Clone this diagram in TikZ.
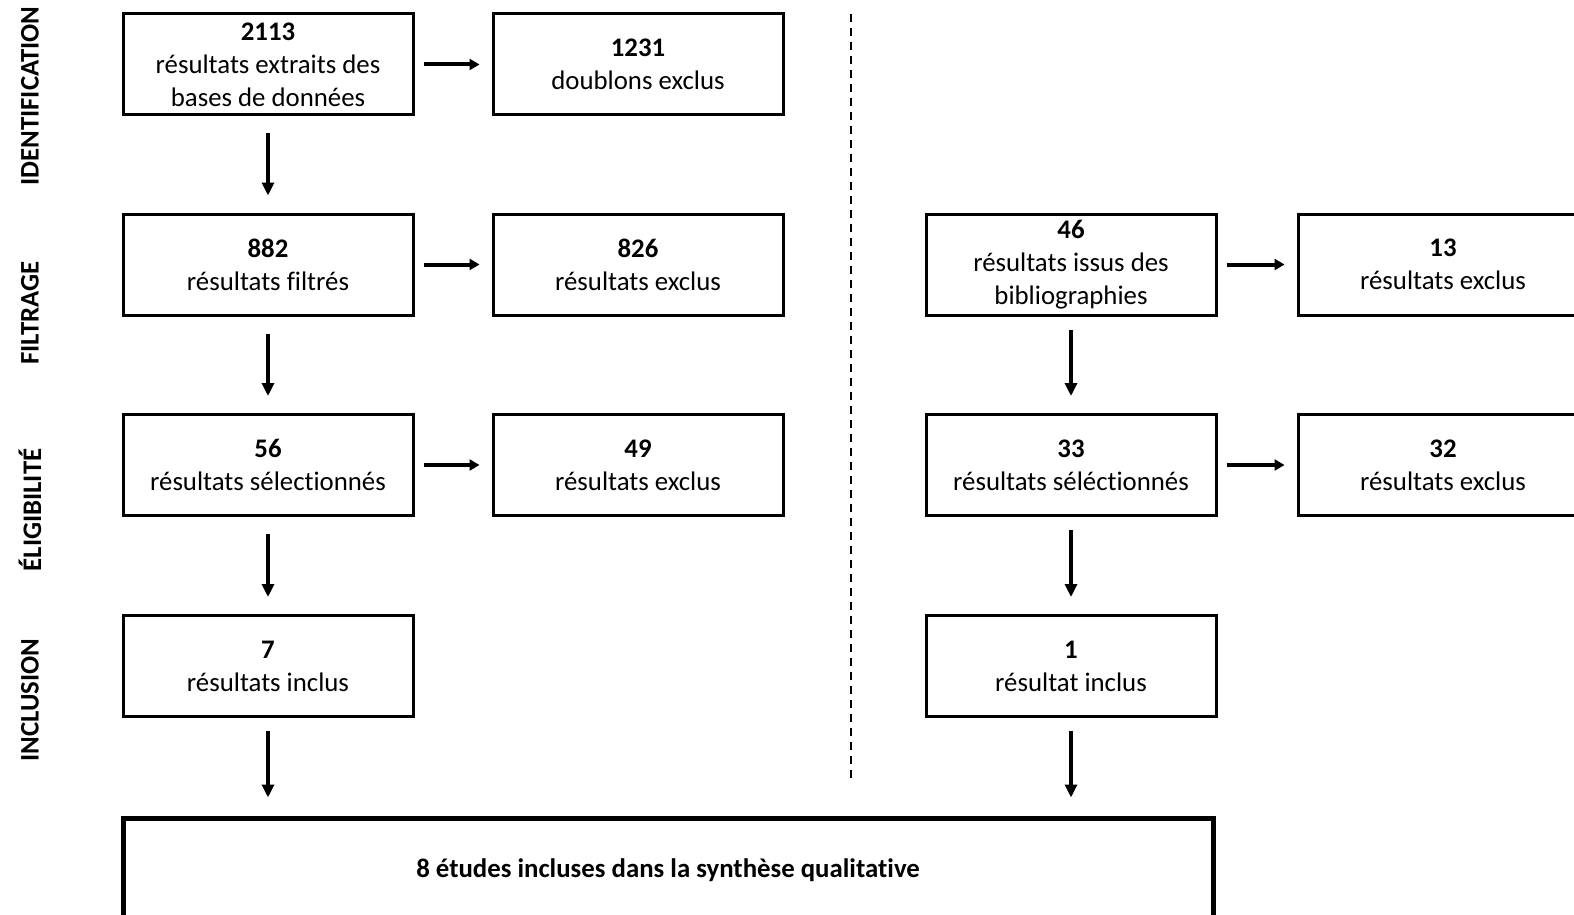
\documentclass[tikz,border=0pt]{standalone}
\usepackage{fontspec}
\setmainfont{Carlito}[Ligatures={NoCommon,NoRequired,NoContextual}]
\usetikzlibrary{arrows.meta}
\begin{document}
\begin{tikzpicture}[x=0.5pt,y=-0.5pt,
  box/.style={draw,line width=1.5pt,minimum width=145pt,minimum height=50.5pt,inner sep=0pt,align=center,font=\fontsize{13.4}{16.5}\selectfont},
  bigbox/.style={draw,line width=2.5pt,inner sep=0pt,align=center,font=\fontsize{13.4}{16.5}\selectfont\bfseries},
  harr/.style={line width=2pt,-{Triangle[length=5pt,width=5.5pt]}},
  varr/.style={line width=1.6pt,-{Triangle[length=6.5pt,width=6pt]}},
  phase/.style={rotate=90,font=\fontsize{13.4}{16}\selectfont\bfseries}]
\useasboundingbox (0,0) rectangle (1574,915);
% phase labels
\node[phase] (pI) at (30,96) {IDENTIFICATION};
\node[phase] (pF) at (30,313) {FILTRAGE};
\node[phase] (pE) at (30,510) {ÉLIGIBILITÉ};
\node[phase] (pN) at (30,700) {INCLUSION};
% left column
\node[box] (a1) at (268,64.5) {\textbf{2113}\\résultats extraits des\\bases de données};
\node[box] (a2) at (268,264.5) {\textbf{882}\\résultats filtrés};
\node[box] (a3) at (268,465) {\textbf{56}\\résultats sélectionnés};
\node[box] (a4) at (268,666) {\textbf{7}\\résultats inclus};
% second column
\node[box] (b1) at (638,64.5) {\textbf{1231}\\doublons exclus};
\node[box] (b2) at (638,264.5) {\textbf{826}\\résultats exclus};
\node[box] (b3) at (638,465) {\textbf{49}\\résultats exclus};
% right column
\node[box] (c1) at (1071,264.5) {\textbf{46}\\résultats issus des\\bibliographies};
\node[box] (c2) at (1071,465) {\textbf{33}\\résultats séléctionnés};
\node[box] (c3) at (1071,666) {\textbf{1}\\résultat inclus};
% far right (cut off)
\node[box] (d1) at (1443,264.5) {\textbf{13}\\résultats exclus};
\node[box] (d2) at (1443,465) {\textbf{32}\\résultats exclus};
% final box
\node[bigbox,minimum width=545pt,minimum height=90pt] (f) at (668,908) {8 études incluses dans la synthèse qualitative\\[23pt]\mbox{}};
% dashed separator
\coordinate (s1) at (851,14);
\coordinate (s2) at (851,783);
\draw[line width=0.75pt,dash pattern=on 4pt off 3pt] (s1) -- (s2);
% horizontal arrows
\foreach \u/\v in {a1/b1,a2/b2,a3/b3,c1/d1,c2/d2}
  \draw[harr,shorten <=4.5pt,shorten >=6pt] (\u.east) -- (\v.west);
% vertical arrows
\foreach \u/\v in {a1/a2,a2/a3,a3/a4}
  \draw[varr,shorten <=8.5pt,shorten >=8.5pt] (\u.south) -- (\v.north);
\foreach \u/\v in {c1/c2,c2/c3}
  \draw[varr,shorten <=6.5pt,shorten >=8.5pt] (\u.south) -- (\v.north);
\draw[varr,shorten <=6.5pt,shorten >=9pt] (a4.south) -- (a4.south |- f.north);
\draw[varr,shorten <=6.5pt,shorten >=9pt] (c3.south) -- (c3.south |- f.north);
\end{tikzpicture}
\end{document}
